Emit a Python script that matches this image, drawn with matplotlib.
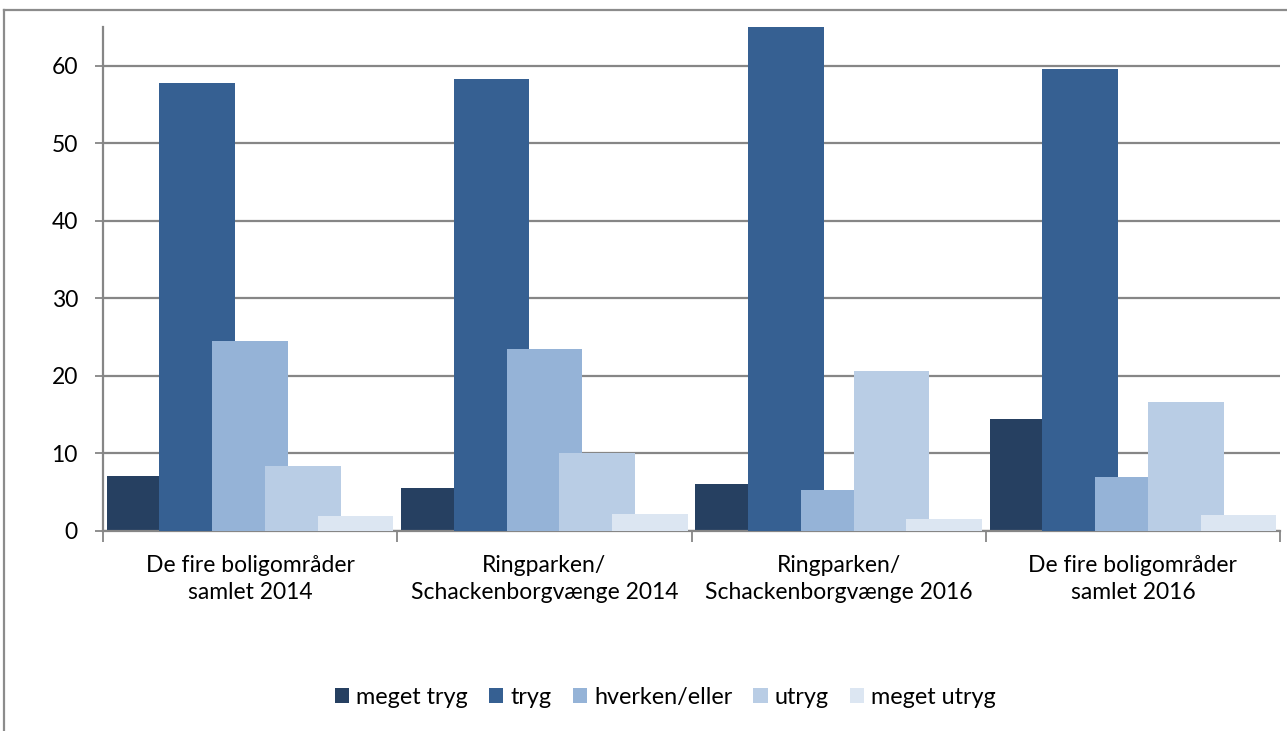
import numpy as np
import matplotlib
matplotlib.use("Agg")
import matplotlib.pyplot as plt
from matplotlib.lines import Line2D

# === Data ===
categories = ["De fire boligområder\nsamlet 2014",
              "Ringparken/\nSchackenborgvænge 2014",
              "Ringparken/\nSchackenborgvænge 2016",
              "De fire boligområder\nsamlet 2016"]
series = ["meget tryg", "tryg", "hverken/eller", "utryg", "meget utryg"]
meget_tryg = [7.1, 5.5, 6.0, 14.5]
tryg = [57.8, 58.3, 65.0, 59.6]
hverken = [24.5, 23.5, 5.3, 7.0]
utryg = [8.4, 10.1, 20.6, 16.7]
meget_utryg = [1.9, 2.2, 1.5, 2.0]
values = [meget_tryg, tryg, hverken, utryg, meget_utryg]
colors = ["#264061", "#366092", "#95B3D7", "#B9CDE5", "#DCE6F2"]

# === Styling ===
plt.rcParams.update({
    "font.family": ["Lato", "DejaVu Sans"],
    "font.size": 16.5,
})

fig = plt.figure(figsize=(12.87, 7.31), dpi=100)
ax = fig.add_axes([0.080, 0.2736, 0.9146, 0.6895])

x = np.arange(len(categories))
step = 0.1794
width = 0.257
for k, (name, vals) in enumerate(zip(series, values)):
    ax.bar(x + (k - 2) * step, vals, width=width, color=colors[k],
           label=name, zorder=2 + k)

ax.set_xlim(-0.5, len(categories) - 0.5)
ax.set_ylim(0, 65)
ax.set_yticks(range(0, 61, 10))
ax.yaxis.grid(True, color="#868686", linewidth=1.6, zorder=0)
ax.set_axisbelow(True)

# category labels between boundary ticks
ax.set_xticks(np.arange(-0.5, len(categories)), minor=False)
ax.set_xticklabels([])
ax.set_xticks(x, minor=True)
ax.set_xticklabels(categories, minor=True, fontsize=16.5, linespacing=1.35)
ax.tick_params(axis="x", which="minor", length=0, pad=17)
ax.tick_params(axis="x", which="major", length=8, color="#868686", width=1.3)
ax.tick_params(axis="y", length=6, color="#868686", width=1.3, labelsize=16.5, pad=12)

for side in ["top", "right"]:
    ax.spines[side].set_visible(False)
for side in ["left", "bottom"]:
    ax.spines[side].set_color("#868686")
    ax.spines[side].set_linewidth(1.6)

ax.legend(loc="center", bbox_to_anchor=(0.517, 0.046), bbox_transform=fig.transFigure,
          ncol=5, frameon=False, fontsize=16.8, handlelength=0.62, handleheight=0.62,
          handletextpad=0.3, columnspacing=0.9)

# outer chart frame (cut at right/bottom)
W, H = 1287, 731
fig.add_artist(Line2D([4 / W, 4 / W], [0, 1 - 10 / H], color="#8c8c8c", linewidth=1.6))
fig.add_artist(Line2D([4 / W, 1], [1 - 10 / H, 1 - 10 / H], color="#8c8c8c", linewidth=1.6))

fig.savefig("out.png", dpi=100)
